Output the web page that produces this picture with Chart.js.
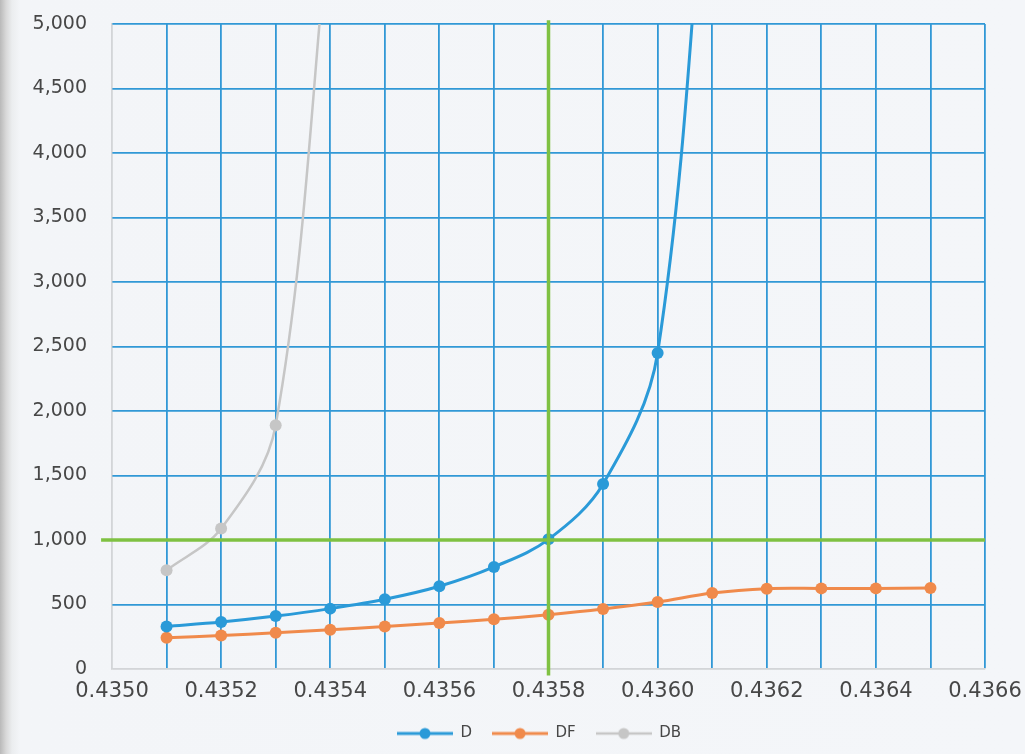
<!DOCTYPE html>
<html>
<head>
<meta charset="utf-8">
<script src="https://cdn.jsdelivr.net/npm/chart.js@4.4.1/dist/chart.umd.min.js"></script>
<style>
  html, body { margin: 0; padding: 0; }
  body {
    width: 1025px; height: 754px; overflow: hidden;
    background: linear-gradient(to right, #b9b9b9 0px, #d8d8d8 6px, #ebedef 12px, #f3f5f8 20px, #f4f6f9 100%);
  }
  #wrap { position: absolute; left: 0; top: 0; width: 1025px; height: 754px; }
</style>
</head>
<body>
<div id="wrap"><canvas id="c" width="1025" height="754"></canvas></div>
<script>
// ---- data ----
const xD  = [0.4351, 0.4352, 0.4353, 0.4354, 0.4355, 0.4356, 0.4357, 0.4358, 0.4359, 0.4360, 0.4361];
const yD  = [330, 364, 410, 468, 540, 641, 791, 1005, 1434, 2450, 7000];
const xDF = [0.4351, 0.4352, 0.4353, 0.4354, 0.4355, 0.4356, 0.4357, 0.4358, 0.4359, 0.4360, 0.4361, 0.4362, 0.4363, 0.4364, 0.4365];
const yDF = [242, 260, 281, 304, 330, 356, 385, 421, 465, 519, 589, 623, 625, 625, 628];
const xDB = [0.4351, 0.4352, 0.4353, 0.4354];
const yDB = [765, 1089, 1890, 5900];
const refX = 0.4358;   // green vertical reference
const refY = 1000;     // green horizontal reference
const xMin = 0.4350, xMax = 0.4366, xStep = 0.0001;
const yMin = 0, yMax = 5000, yStep = 500;

const pts = (xs, ys) => xs.map((x, i) => ({x: x, y: ys[i]}));

const BLUE_GRID = '#3198d6';
const AXIS_GRAY = '#d3d5d8';
const TEXT = '#474747';
const GREEN = '#7fc142';
const LEGEND_CENTER = 539;

function legendIcon(color, lw) {
  const c = document.createElement('canvas');
  c.width = 56; c.height = 14;
  const g = c.getContext('2d');
  g.strokeStyle = color; g.lineWidth = lw;
  g.beginPath(); g.moveTo(0, 7); g.lineTo(56, 7); g.stroke();
  g.fillStyle = color;
  g.beginPath(); g.arc(28, 7, 5.5, 0, Math.PI * 2); g.fill();
  return c;
}

const series = [
  {label: 'D',  color: '#2a9ad8', lw: 3,   data: pts(xD, yD)},
  {label: 'DF', color: '#f08a4b', lw: 3,   data: pts(xDF, yDF)},
  {label: 'DB', color: '#c6c6c6', lw: 2.5, data: pts(xDB, yDB)}
];

const datasets = [
  {label: 'refV', isRef: true, data: [{x: refX, y: -50}, {x: refX, y: 5030}],
   borderColor: GREEN, borderWidth: 3.5, pointRadius: 0, clip: false, tension: 0},
  {label: 'refH', isRef: true, data: [{x: 0.43498, y: refY}, {x: xMax, y: refY}],
   borderColor: GREEN, borderWidth: 3.5, pointRadius: 0, clip: false, tension: 0}
].concat(series.map(s => ({
  label: s.label, data: s.data,
  borderColor: s.color, backgroundColor: s.color,
  pointBackgroundColor: s.color, pointBorderColor: s.color,
  borderWidth: s.lw, pointRadius: 6, pointBorderWidth: 0, pointHoverRadius: 6,
  tension: 0.35,
  legendIcon: legendIcon(s.color, s.lw)
})));

const isX = (v, t) => Math.abs(v - t) < 1e-9;

const legendShift = {
  id: 'legendShift',
  afterLayout(chart) {
    const lg = chart.legend;
    if (!lg) return;
    const d = LEGEND_CENTER - (lg.left + lg.right) / 2;
    lg.left += d; lg.right += d;
  }
};

new Chart(document.getElementById('c'), {
  type: 'line',
  data: { datasets: datasets },
  plugins: [legendShift],
  options: {
    responsive: false,
    animation: false,
    events: [],
    layout: { padding: { left: 0, right: 40, top: 24, bottom: 3 } },
    scales: {
      x: {
        type: 'linear', min: xMin, max: xMax,
        afterFit: s => { s.height = 37; s.paddingLeft = 0; s.paddingRight = 0; },
        grid: {
          drawTicks: false, lineWidth: 1.8,
          color: ctx => (ctx.tick && isX(ctx.tick.value, xMin)) ? AXIS_GRAY : BLUE_GRID
        },
        border: { display: true, color: AXIS_GRAY, width: 1.2 },
        ticks: {
          stepSize: xStep, autoSkip: false, maxRotation: 0, padding: 10,
          color: TEXT, font: { family: 'DejaVu Sans', size: 21 },
          callback: v => (Math.round(v * 10000) % 2 === 0) ? v.toFixed(4) : ''
        }
      },
      y: {
        type: 'linear', min: yMin, max: yMax,
        afterFit: s => { s.width = 112; s.paddingTop = 10; s.paddingBottom = 10; },
        grid: {
          drawTicks: false, lineWidth: 1.8,
          color: ctx => (ctx.tick && ctx.tick.value === 0) ? AXIS_GRAY : BLUE_GRID
        },
        border: { display: true, color: AXIS_GRAY, width: 1.2 },
        ticks: {
          stepSize: yStep, padding: 25, color: TEXT,
          font: { family: 'DejaVu Sans', size: 19 },
          callback: v => v.toLocaleString('en-US')
        }
      }
    },
    plugins: {
      tooltip: { enabled: false },
      legend: {
        position: 'bottom',
        labels: {
          usePointStyle: true, pointStyleWidth: 56, padding: 20,
          color: TEXT, font: { family: 'DejaVu Sans', size: 15 },
          generateLabels: chart => chart.data.datasets
            .map((ds, i) => ({ds: ds, i: i}))
            .filter(o => !o.ds.isRef)
            .map(o => ({
              text: o.ds.label, datasetIndex: o.i, pointStyle: o.ds.legendIcon,
              fillStyle: o.ds.borderColor, strokeStyle: o.ds.borderColor,
              lineWidth: 0, hidden: false, fontColor: TEXT
            }))
        }
      }
    }
  }
});
</script>
</body>
</html>
